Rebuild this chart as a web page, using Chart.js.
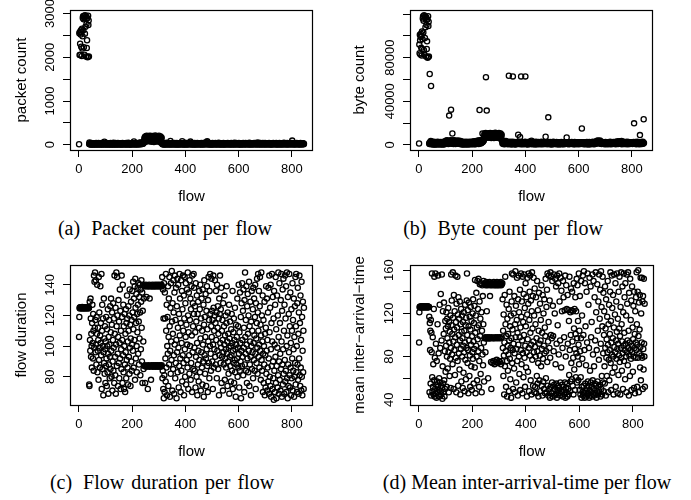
<!DOCTYPE html>
<html>
<head>
<meta charset="utf-8">
<script src="https://cdn.jsdelivr.net/npm/chart.js@4.4.1/dist/chart.umd.min.js"></script>
<style>
  html, body { margin: 0; padding: 0; background: #fff; }
  body { width: 691px; height: 500px; position: relative; overflow: hidden; }
  canvas.panel { position: absolute; }
  .cap {
    position: absolute; z-index: 2; color: #000; white-space: nowrap;
    font-family: "Liberation Serif", "Times New Roman", serif; font-size: 20px; line-height: 22px;
    word-spacing: 2px;
    transform: translate(-50%, -50%);
  }
  .cap .lbl { margin-right: 4px; }
</style>
</head>
<body>
<canvas id="pA" class="panel"></canvas>
<canvas id="pB" class="panel"></canvas>
<canvas id="pC" class="panel"></canvas>
<canvas id="pD" class="panel"></canvas>
<div class="cap" style="left:165px; top:228px"><span class="lbl">(a)</span> Packet count per flow</div>
<div class="cap" style="left:503px; top:228px"><span class="lbl">(b)</span> Byte count per flow</div>
<div class="cap" style="left:162px; top:482px"><span class="lbl">(c)</span> Flow duration per flow</div>
<div class="cap" style="left:527px; top:482px; word-spacing:0"><span class="lbl" style="margin-right:0">(d)</span> Mean inter-arrival-time per flow</div>
<script>
// ---- axis ticks ----
const flowTicks = [0, 200, 400, 600, 800];
const flowTickLabels = ['0', '200', '400', '600', '800'];
const packetTicks = [0, 500, 1000, 1500, 2000, 2500, 3000];
const packetTickLabels = ['0', '', '1000', '', '2000', '', '3000'];
const byteTicks = [0, 20000, 40000, 60000, 80000, 100000, 120000];
const byteTickLabels = ['0', '', '40000', '', '80000', '', ''];
const durationTicks = [80, 100, 120, 140];
const durationTickLabels = ['80', '100', '120', '140'];
const iatTicks = [40, 60, 80, 100, 120, 140, 160];
const iatTickLabels = ['40', '', '80', '', '120', '', '160'];

// ---- per-flow measurements (flow 1, 2, 3, ...) ----
const packetCount = [
  12,
  2550,2050,2580,2310,2060,2520,2620,2240,2580,2030,2650,2200,2480,2900,2940,2620,2870,2230,2950,2060,
  2910,2540,2960,2700,2880,2020,2930,2760,2210,2390,2890,2000,2010,2950,2740,2840,2020,
  18,53,9,27,14,33,6,21,40,12,25,8,30,17,4,36,11,23,15,29,
  7,20,34,13,26,5,38,16,22,10,31,19,3,28,14,42,9,24,17,35,
  11,27,6,20,33,15,8,39,18,24,12,30,5,22,16,37,10,69,26,13,
  21,7,34,18,28,11,41,15,4,25,19,32,9,23,14,36,6,29,17,12,
  38,20,8,27,15,33,10,24,5,30,18,44,13,21,7,35,16,26,11,39,
  14,22,6,31,19,9,28,16,40,12,25,4,33,18,23,10,37,15,27,8,
  20,34,13,26,6,41,17,29,11,22,35,9,24,15,31,5,19,28,14,38,
  10,23,16,32,7,26,18,43,12,21,30,8,36,14,25,11,19,33,6,27,
  15,39,9,22,17,31,12,28,76,20,35,8,24,14,42,18,29,10,34,21,
  13,37,25,7,32,16,27,45,11,23,38,19,30,52,14,36,26,41,17,48,
  29,55,22,46,34,60,
  88,142,65,176,104,131,193,72,158,117,205,96,149,183,79,126,168,110,198,137,
  84,161,121,207,99,145,186,70,153,114,172,92,200,133,106,178,146,63,189,124,
  157,101,210,139,82,168,118,195,75,152,129,184,97,163,140,112,204,87,174,120,
  58,148,191,103,135,67,162,44,
  26,14,33,9,21,40,17,6,28,12,35,19,24,8,30,15,44,11,22,37,
  16,27,7,32,20,13,38,24,10,29,18,85,14,34,5,25,41,12,21,31,
  9,36,17,23,11,30,15,42,8,26,19,33,13,22,6,39,16,28,10,35,
  20,12,31,7,24,17,37,14,27,9,33,18,22,11,40,80,15,29,6,25,
  34,13,21,8,30,19,43,11,26,16,36,7,23,14,32,20,10,38,17,27,
  12,35,22,9,29,15,72,41,18,25,6,33,13,21,37,10,28,16,31,8,
  24,14,39,19,11,30,22,7,34,16,27,12,42,20,9,32,17,25,13,36,
  10,28,18,33,6,23,15,40,12,29,21,8,35,17,26,11,31,14,48,19,
  37,9,24,16,30,12,22,55,18,78,27,10,34,15,21,7,39,20,13,28,
  17,32,11,25,8,36,14,23,19,41,6,29,16,34,12,26,9,31,21,15,
  38,13,24,18,7,30,22,11,35,16,27,9,43,19,14,32,20,10,25,17,
  6,33,15,28,12,37,21,8,26,18,40,11,23,14,31,7,29,19,36,13,
  22,10,34,17,27,9,39,15,24,12,30,20,6,35,16,26,11,32,18,42,
  14,25,8,31,19,37,12,23,16,28,10,44,21,7,33,15,26,13,38,18,
  24,9,30,17,35,11,22,14,41,19,6,27,16,33,12,25,8,36,20,29,
  13,31,18,10,38,22,15,27,7,34,17,24,11,40,19,28,14,32,9,23,
  36,16,26,12,30,20,8,43,18,25,14,33,10,22,37,15,29,6,24,19,
  11,35,21,28,13,39,17,9,31,23,15,42,12,26,19,34,7,30,16,50,
  25,14,37,20,10,32,18,27,12,40,22,8,29,16,35,11,24,19,38,13,
  28,9,33,17,23,14,41,21,6,30,15,26,12,36,19,24,10,34,18,27,
  13,39,22,8,31,16,25,11,37,20,14,29,7,33,18,26,12,42,21,15,
  35,10,27,19,32,13,24,9,38,17,28,14,22,6,30,20,36,11,25,16,
  40,12,29,18,23,8,34,15,26,11,37,21,14,31,9,27,19,44,13,24,
  17,33,10,28,20,36,12,25,15,39,7,30,18,23,11,35,16,27,13,41,
  22,9,31,19,26,14,38,12,95,24,16,33,10,28,18,21,6,36,15,29,
  12,34,20,25,9,39,17,30,13,23,16,37,11,27,19,32,8,26,14,42,
  21,15,35,10,28,18,24,12,33,16,29,9,22
];

const byteCount = [
  1200,
  92000,84000,101000,96000,83000,99000,102000,89000,100000,82000,104000,88000,97000,116000,118000,103000,114000,87000,119000,83000,
  117000,98000,118000,108000,115000,81000,117000,110000,88000,95000,115000,80000,80500,118000,109000,113000,81000,
  1500,820,65000,2300,640,1900,3600,54000,1100,2700,450,1600,980,2200,350,1400,2900,760,1800,520,
  2100,1250,380,2600,900,1700,300,2400,1050,680,1950,1350,2750,560,1550,2050,420,1150,2350,870,
  1650,290,2500,1300,720,2150,1000,480,1850,2650,600,1450,2250,330,1750,940,2800,1200,510,2000,
  3100,1400,2600,3800,900,2900,1700,4200,2300,1150,3400,2000,700,3000,1550,26800,2450,3700,1250,2850,
  1900,4300,32300,2200,3300,1050,2700,10400,1600,3900,2500,800,3200,1800,4100,2350,1350,3550,2050,650,
  2950,1700,3750,2250,1200,3450,2600,950,3100,1850,4000,2400,1500,3300,2100,700,2800,1650,3600,1300,
  2300,520,1800,2600,1100,400,2000,1450,2900,760,1700,2250,350,1550,2450,980,1850,620,2700,1200,
  430,2100,1650,860,2550,1400,300,1950,2350,700,1500,2800,1050,480,2200,1750,900,2450,1300,590,
  2000,1600,3100,820,2400,1150,2900,1900,450,2650,1350,3300,1700,2150,620,2750,1450,3500,1000,2300,
  2900,1250,3700,2100,1550,3200,800,2600,4300,32000,1900,3400,2400,1100,3900,2700,1700,4500,2200,3100,
  10400,2600,4800,3300,5500,3900,
  7200,9600,6400,10300,8100,9000,10800,62100,9400,7900,31400,7000,8800,10100,6600,8500,9900,7600,10600,8300,
  6800,9300,8000,10900,7400,8900,10400,6300,9100,7800,9800,7100,10700,8600,7500,10200,8700,6200,10500,8200,
  9500,7300,11000,8400,6900,9700,7700,10600,6500,9200,8100,10300,7000,9000,8800,7900,10900,6700,9400,7600,
  5800,8900,10400,7200,8500,6100,9300,4200,
  3600,1200,2800,900,3200,1700,2400,600,3000,1500,2200,800,2700,1300,3400,1000,1900,2500,700,1600,
  2100,1100,2600,500,1800,63400,2300,900,1400,2900,650,1700,2000,1150,2450,400,1950,1350,2750,800,
  62800,1500,2200,950,1750,2500,600,1250,2050,1600,350,2350,1050,1850,2650,750,1450,2150,1000,1700,
  9200,2400,850,1550,2000,1300,2800,7100,1150,1900,450,62800,2250,1400,700,2550,1000,1800,2100,550,
  1650,2400,1200,2000,800,1500,2700,62800,950,1750,2300,600,1350,2150,1050,1850,400,2500,1250,1600,
  2050,700,1450,2600,1100,1900,3000,850,2350,1550,3700,1250,2150,500,1750,2450,950,1400,2200,650,
  1800,2500,1150,1600,350,2100,1300,2700,900,1950,1500,2300,600,1700,2000,1050,2550,800,1450,2250,
  1000,1850,2400,550,1550,2100,1250,2800,750,1650,2000,1100,2350,450,1800,1350,2600,900,1500,2150,
  1200,700,2450,7400,1600,2050,950,1750,2300,500,1400,1900,2650,25200,1150,2200,850,1550,2000,1300,
  2500,600,1700,2250,1050,1850,400,2400,1400,2050,800,1600,2700,1150,1950,650,2150,1300,1750,2350,
  950,1500,2000,550,2600,1250,1800,2250,700,1650,2100,1050,2450,400,1550,1900,1200,2300,850,1700,
  2150,1000,2550,600,1450,2000,1300,2350,800,1750,2200,450,1600,2500,1100,1950,700,2050,1350,1800,
  2400,900,6800,1500,2100,650,1700,2300,1150,1850,500,2450,1250,2000,800,1650,2250,1000,1550,2050,
  1300,2600,750,1900,2150,1050,1450,2350,600,1750,2000,1200,2500,450,1600,2200,950,1800,2400,700,
  1550,2050,1150,1850,2300,550,1650,2150,1000,2450,800,1400,2000,1250,1950,650,2250,1350,1700,15000,
  2100,900,1600,2400,1050,1800,500,2200,1450,2000,750,1750,2350,1100,1900,600,2050,1300,2500,850,
  1550,2250,1000,1850,400,2150,1350,2600,700,1700,2000,1150,2450,550,1650,2300,950,1800,2100,1250,
  2700,800,1500,2250,1050,1950,600,2400,1400,2050,900,1750,2600,3200,1200,2800,3500,1600,3900,2300,
  3100,1800,2700,3600,1300,2500,3300,4000,2000,1100,2900,1500,2200,700,1900,2400,1250,2650,950,1700,
  2100,1150,1850,2350,600,1550,2000,1300,2500,850,1750,2200,1000,1950,450,2450,1400,1650,2150,750,
  1600,2300,1100,2000,1450,2700,550,1800,2250,1200,1950,800,2400,1350,2100,650,1700,2500,1050,1850,
  2200,900,1550,2600,1250,2050,500,2350,1650,2800,1000,1900,3100,1400,2450,750,1750,2950,1150,2000,
  3300,1500,2250,900,1850,2700,1300,2100,3500,600,1700,2400,1050,2000,2900,1400,2250,800,1950,2600,
  1200,2050,700,1750,2350,1000,2150,1550,2800,450,1650,2300,1100,1900,2550,850,2000,1450,2200,650,
  1800,2450,1250,2100,950,1600,2350,1500,2000,750,2250,1350,1850,2600,1100,19700,1700,2150,900,1950,
  2500,1200,2050,600,1750,2300,1400,2700,1000,1900,2200,800,1650,2400,1300,2050,550,8900,1850,2350,
  1100,2000,1500,2600,750,1700,2250,1350,2900,1050,1900,23400,1600
];

const flowDuration = [
  106,119,
  125,124.6,125.3,125,124.8,125.4,125,124.7,125.2,125,125.5,124.6,125,125.3,124.8,125,125.4,124.7,
  125.1,125,124.6,125.3,125,124.9,125.4,125,124.7,125.2,125,124.8,125.5,125,124.6,125.2,125,124.9,
  75,74,129,104,97,131,118,93,108,100,86,115,127,102,92,121,110,84,146,99,142,112,
  148,117,96,143,101,88,119,108,140,83,97,112,104,78,145,91,122,99,86,107,
  139,102,115,94,147,72,110,127,85,100,118,68,96,131,89,105,82,113,98,76,
  103,87,119,92,74,111,100,83,124,95,69,106,88,117,101,79,93,126,85,109,
  131,97,80,114,122,71,90,104,128,84,99,118,76,146,108,93,81,125,69,101,
  148,113,87,145,120,95,74,106,130,89,116,79,102,137,92,123,72,110,98,85,
  146,119,104,76,140,94,127,83,113,72,100,121,88,70,108,96,124,79,115,91,
  133,118,86,103,75,126,110,93,120,82,137,99,114,74,105,129,90,117,84,101,
  136,122,97,142,111,86,131,119,104,139,78,144,125,92,115,134,100,83,121,109,
  138,127,95,141,116,88,132,105,140,122,81,137,98,129,143,112,90,135,76,123,140,103,85,131,
  139,87,139.5,87.5,76,139,87,140,86.5,132,139,87,139.5,87,72,139,87.5,139,87,140,
  86.5,131,139,87,139.5,87,78,139,87.5,139,87,140,86.5,139,87,139.5,87.5,139,87,139,
  87,140,86.5,139,87.5,139.5,87,139,87,140,87.5,139,86.5,139.5,87,139,87,140,87.5,139,
  87,139.5,86.5,139,87,140,87.5,139,
  145,79,84,137,72,118,66,141,81,70,135,118,92,77,147,110,86,127,68,100,
  119,95,139,74,106,131,88,145,113,67,97,125,82,141,103,91,149,116,71,128,
  108,85,143,122,94,69,135,101,146,79,117,89,138,104,66,126,96,144,83,112,
  140,99,73,121,87,147,107,131,92,70,115,143,84,102,136,77,124,94,146,110,
  89,133,68,118,145,98,80,128,106,141,75,114,91,137,101,86,148,120,72,109,
  135,94,82,143,117,100,131,78,124,89,139,107,70,146,96,128,113,85,147,121,
  138,99,84,126,109,73,141,93,116,80,133,102,68,121,88,129,97,77,112,136,
  91,124,83,140,105,71,118,96,131,86,110,75,137,101,90,127,67,114,143,94,
  119,82,106,134,92,74,123,98,139,87,111,70,130,103,145,89,117,79,136,100,
  147,121,95,84,113,144,106,123,90,117,72,101,146,125,86,110,98,120,143,93,
  115,88,136,104,122,79,140,97,112,126,85,108,118,68,131,94,121,146,102,89,
  124,99,138,76,110,93,117,104,71,128,96,88,113,101,133,78,107,92,120,98,
  86,115,139,95,103,74,122,90,108,82,99,127,69,105,93,116,87,100,77,111,
  94,121,84,102,136,72,97,109,89,118,76,104,91,125,83,98,67,114,101,88,
  106,92,131,80,99,113,86,140,95,73,109,84,135,102,90,119,66,97,128,87,
  141,104,93,123,81,137,99,112,70,130,88,148,106,95,117,84,139,101,76,126,
  92,134,108,83,120,97,142,74,113,88,103,129,93,68,116,100,136,85,110,96,
  124,79,138,102,91,131,107,84,119,140,95,72,128,105,89,115,144,99,82,122,
  147,110,93,136,101,86,126,145,97,114,78,107,148,91,120,84,103,133,70,95,
  117,76,100,88,129,68,108,94,73,112,139,82,97,131,71,104,86,122,77,138,
  92,69,146,109,80,125,74,140,98,67,115,87,147,103,72,132,90,79,118,65,
  136,84,101,70,127,93,145,76,111,66,87,133,99,73,120,81,148,106,69,90,
  141,78,115,95,71,130,85,147,103,67,123,88,137,75,98,144,82,110,69,127,
  91,146,77,118,84,139,70,100,148,79,107,66,132,88,74,121,96,147,81,113,
  73,135,86,102,68,124,79,110,92,141,71,117,84,98,131,67,106,80,126,89,
  145,75,113,147,83,100,70,128,88,138,78,108,69,122,92,146,81,115,74,133,
  86,104,71,142,80,119,68,97,129,83,110,72,125
];

const meanInterArrival = [
  93,121,
  126,125.6,126.3,126,125.8,126.4,126,125.7,126.2,126,126.5,125.6,126,126.3,125.8,126,126.4,125.7,
  126.1,126,125.6,126.3,126,125.9,126.4,126,125.7,126.2,126,125.8,126.5,126,125.6,126.2,126,125.9,
  117,47,111,86,104,55,114,44,102,84,157,61,48,98,52,73,45,124,58,154,43,79,
  50,157,46,92,54,42,76,57,47,110,52,155,44,83,49,60,43,128,56,88,
  48,138,53,45,95,156,51,41,71,122,55,47,101,130,58,43,85,50,113,66,
  106,90,121,52,80,115,97,69,108,125,84,47,112,93,62,103,78,118,51,88,
  156,109,132,82,101,73,158,116,94,50,137,105,86,122,63,98,155,79,112,47,
  129,91,107,154,76,119,53,135,100,83,115,68,131,95,45,110,87,124,57,103,
  118,80,97,51,112,90,65,121,84,104,48,93,128,77,109,59,116,88,132,157,
  100,74,123,86,46,108,130,95,62,117,81,52,105,126,91,71,113,49,99,84,
  120,78,133,94,55,111,87,127,70,151,102,46,118,90,139,80,107,58,150,96,
  124,85,152,109,52,76,131,147,99,115,64,148,88,121,47,104,146,82,136,72,110,150,93,57,
  147,97,148,98,84,146,97,149,97,122,147,98,146,97,60,148,97,147,98,149,
  97,136,146,97,148,75,50,147,98,146,74,148,97,147,76,149,97,146,73,147,
  98,148,75,146,97,147,77,149,98,146,74,148,97,147,76,146,98,148,75,147,
  97,149,73,146,98,147,76,148,
  133,88,104,62,119,81,45,93,137,71,154,110,85,52,99,128,76,43,115,90,
  67,101,82,124,48,95,140,78,108,59,88,118,42,97,131,157,74,105,86,50,
  156,92,120,69,136,83,47,110,159,98,127,56,87,114,153,76,102,44,133,91,
  155,80,121,64,98,142,49,107,86,157,117,73,131,95,46,154,83,112,61,138,
  100,156,79,125,52,90,148,108,70,135,84,43,119,153,96,66,129,157,88,48,
  114,140,81,155,102,58,132,91,45,122,158,77,106,136,53,94,153,84,118,47,
  143,89,52,110,80,135,46,97,62,150,85,55,123,74,43,104,139,92,58,81,
  129,48,95,114,71,146,53,87,102,44,137,78,57,120,90,50,133,83,107,46,
  99,152,60,85,126,47,142,75,157,53,94,44,112,155,50,88,132,42,79,158,
  52,100,154,46,97,56,150,43,127,99,48,85,156,54,44,120,50,152,73,45,
  145,55,92,42,155,49,109,53,148,46,82,51,157,131,44,95,56,153,48,70,
  141,47,122,54,88,43,150,52,135,49,98,45,123,56,155,42,80,51,146,47,
  124,55,43,137,92,50,123,45,113,63,154,86,48,121,57,100,143,74,123,59,
  140,94,53,122,79,45,148,106,68,124,87,49,135,101,61,122,83,152,56,97,
  146,80,113,58,91,157,73,104,49,136,85,45,61,97,150,42,52,118,78,47,
  155,44,100,53,159,46,86,42,148,55,108,48,72,43,140,51,93,45,157,57,
  46,128,53,88,42,153,49,67,44,145,56,98,47,112,52,43,156,58,82,45,
  150,50,71,44,135,55,95,46,158,53,121,42,86,48,147,57,104,45,131,52,
  77,156,47,115,54,142,43,92,159,50,126,62,45,108,154,56,83,139,48,100,
  122,71,55,145,88,106,44,133,79,96,62,117,84,150,91,47,110,77,128,58,
  86,101,140,158,74,113,49,93,155,82,125,65,97,137,80,45,107,156,89,70,
  119,84,148,52,95,131,78,103,157,87,46,115,92,63,140,81,106,154,75,99,
  45,126,88,158,79,110,67,94,145,83,50,121,90,157,76,102,135,86,59,148,
  92,80,118,47,156,84,129,95,72,158,88,104,44,139,81,93,62,152,86,114,
  78,132,49,90,145,84,107,66,96,127,80,51,140,88,101,46,122,79,93,135,
  86,158,110,52,91,140,79,160,99,47,130,83,105,137,70,89,153,58,120,81,
  93,153,79,131,50,136,87,68,152,92,80,129,52
];

// ---- shared styling ----
const SANS = '"Liberation Sans", Arimo, Arial, sans-serif';
const TICK_PX = 13, TITLE_PX = 15, TICK_LEN = 7;
const flowMin = -33, flowMax = 879;

const measureCtx = document.createElement('canvas').getContext('2d');
measureCtx.font = TICK_PX + 'px ' + SANS;
function widestLabel(labels) {
  return Math.max(...labels.map(l => measureCtx.measureText(l).width));
}

// plot frame around the chart area
const framePlugin = {
  id: 'frame',
  afterDraw(chart) {
    const a = chart.chartArea, ctx = chart.ctx;
    ctx.save();
    ctx.strokeStyle = '#000';
    ctx.lineWidth = 1.2;
    ctx.strokeRect(Math.round(a.left) + 0.5, Math.round(a.top) + 0.5,
                   Math.round(a.right - a.left) - 1, Math.round(a.bottom - a.top));
    ctx.restore();
  }
};

function scatterPanel(cfg) {
  const el = document.getElementById(cfg.id);
  el.width = cfg.width; el.height = cfg.height;
  el.style.left = cfg.left + 'px'; el.style.top = cfg.top + 'px';
  const lh = TITLE_PX * 1.2;
  const padLeft = cfg.yTitleX - cfg.left - lh / 2;
  const yAxisWidth = cfg.box.l - cfg.left - padLeft;
  const xAxisHeight = cfg.top + cfg.height - cfg.box.b;
  const yLabelPad = (cfg.box.l - cfg.yLabelX) - TICK_LEN - widestLabel(cfg.yLabels) / 2;

  const points = cfg.values.map((v, i) => ({ x: i + 1, y: v }));

  return new Chart(el, {
    type: 'scatter',
    data: {
      datasets: [{
        data: points,
        pointStyle: 'circle',
        pointRadius: 2.6,
        pointHoverRadius: 2.6,
        pointBorderWidth: 1.3,
        pointBorderColor: '#000',
        pointBackgroundColor: 'rgba(0,0,0,0)',
        borderColor: '#000',
        backgroundColor: 'rgba(0,0,0,0)'
      }]
    },
    options: {
      responsive: false,
      animation: false,
      events: [],
      layout: {
        padding: {
          left: padLeft,
          top: cfg.box.t - cfg.top,
          right: cfg.left + cfg.width - cfg.box.r,
          bottom: 0
        }
      },
      plugins: { legend: { display: false }, tooltip: { enabled: false } },
      scales: {
        x: {
          type: 'linear',
          min: flowMin, max: flowMax,
          afterBuildTicks: s => { s.ticks = flowTicks.map(v => ({ value: v })); },
          afterFit: s => { s.height = xAxisHeight; },
          ticks: {
            callback: (v, i) => flowTickLabels[i],
            font: { family: SANS, size: TICK_PX },
            color: '#000', padding: 5, maxRotation: 0, autoSkip: false
          },
          grid: { drawOnChartArea: false, drawTicks: true, tickLength: TICK_LEN, color: '#000', lineWidth: 1 },
          border: { display: false },
          title: { display: true, text: 'flow', color: '#000',
                   font: { family: SANS, size: TITLE_PX }, padding: 0 }
        },
        y: {
          type: 'linear',
          min: cfg.yMin, max: cfg.yMax,
          afterBuildTicks: s => { s.ticks = cfg.yTicks.map(v => ({ value: v })); },
          afterFit: s => { s.width = yAxisWidth; },
          ticks: {
            callback: (v, i) => cfg.yLabels[i],
            font: { family: SANS, size: TICK_PX },
            color: '#000', padding: yLabelPad,
            minRotation: 90, maxRotation: 90, crossAlign: 'center', autoSkip: false
          },
          grid: { drawOnChartArea: false, drawTicks: true, tickLength: TICK_LEN, color: '#000', lineWidth: 1 },
          border: { display: false },
          title: { display: true, text: cfg.yTitle, color: '#000',
                   font: { family: SANS, size: TITLE_PX }, padding: 0 }
        }
      }
    },
    plugins: [framePlugin]
  });
}

scatterPanel({
  id: 'pA', left: 0, top: -15, width: 345, height: 221,
  box: { l: 70, t: 10, r: 313, b: 150 }, yTitleX: 22, yLabelX: 50,
  values: packetCount, yMin: -120, yMax: 3080,
  yTicks: packetTicks, yLabels: packetTickLabels, yTitle: 'packet count'
});
scatterPanel({
  id: 'pB', left: 345, top: -15, width: 346, height: 221,
  box: { l: 410, t: 10, r: 653, b: 150 }, yTitleX: 360, yLabelX: 390,
  values: byteCount, yMin: -4760, yMax: 123760,
  yTicks: byteTicks, yLabels: byteTickLabels, yTitle: 'byte count'
});
scatterPanel({
  id: 'pC', left: 0, top: 240, width: 345, height: 221,
  box: { l: 70, t: 265, r: 313, b: 405 }, yTitleX: 22, yLabelX: 50,
  values: flowDuration, yMin: 61.6, yMax: 152.9,
  yTicks: durationTicks, yLabels: durationTickLabels, yTitle: 'flow duration'
});
scatterPanel({
  id: 'pD', left: 345, top: 240, width: 346, height: 221,
  box: { l: 410, t: 265, r: 654, b: 405 }, yTitleX: 360, yLabelX: 389,
  values: meanInterArrival, yMin: 35.2, yMax: 164.8,
  yTicks: iatTicks, yLabels: iatTickLabels, yTitle: 'mean inter\u2212arrival\u2212time'
});
</script>
</body>
</html>
